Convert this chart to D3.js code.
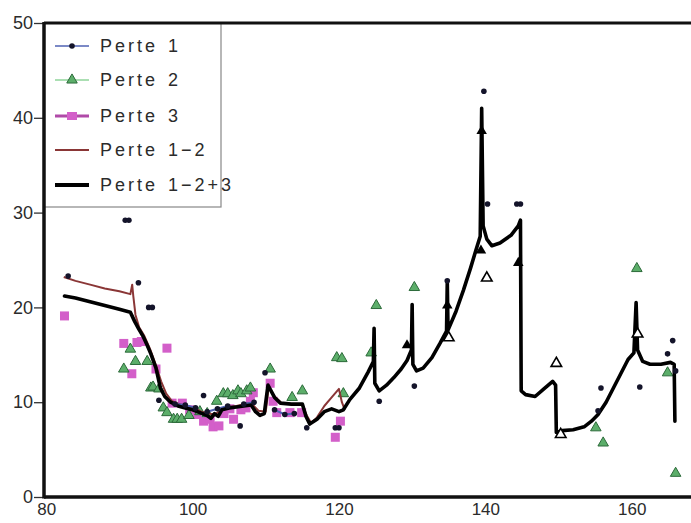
<!DOCTYPE html>
<html><head><meta charset="utf-8">
<script src="https://cdn.jsdelivr.net/npm/d3@7"></script>
<style>html,body{margin:0;padding:0;background:#fff;} svg{display:block;}</style>
</head><body><svg id="c" width="691" height="523"></svg>
<script>
const xTicks=[80,100,120,140,160];
const yTicks=[0,10,20,30,40,50];
const legendLabels=["Perte 1","Perte 2","Perte 3","Perte 1\u22122","Perte 1\u22122+3"];

const perte1X=[83.0,90.8,91.3,92.6,94.0,94.5,95.4,97.6,99.0,100.4,101.5,102.0,103.4,104.8,106.5,107.0,108.4,109.9,111.2,112.6,113.9,115.6,119.5,120.0,125.5,130.3,134.8,139.8,140.3,144.3,144.8,155.4,155.8,161.1,164.9,165.6,166.0];
const perte1Y=[23.3,29.2,29.2,22.6,20.0,20.0,10.2,9.8,9.7,9.4,10.7,9.0,9.3,9.6,7.5,9.8,10.0,13.1,9.2,8.7,8.8,7.3,7.3,7.3,10.1,11.7,22.8,42.8,30.9,30.9,30.9,9.1,11.5,11.6,15.1,16.5,13.3];

const perte2X=[90.6,91.5,92.2,93.8,94.3,94.6,95.4,96.0,96.5,97.4,97.9,98.5,99.5,101.0,102.0,103.3,104.2,104.8,105.5,106.2,106.6,107.4,107.9,110.6,113.6,115.0,119.7,120.4,120.6,124.4,125.1,130.3,155.1,156.1,160.7,164.9,166.0];
const perte2Y=[13.5,15.6,14.3,14.3,11.5,11.6,11.4,9.4,8.9,8.2,8.2,8.2,8.6,9.0,8.8,10.1,10.9,10.9,10.7,11.2,10.9,11.2,11.5,13.5,10.5,11.2,14.7,14.6,10.9,15.2,20.2,22.1,7.3,5.7,24.1,13.1,2.5];
// Perte 2 points that lost their colour in the scan (open / dark)
const perte2OpenX=[135.0,140.2,149.7,150.3,160.8];
const perte2OpenY=[16.8,23.1,14.1,6.6,17.2];
const perte2DarkX=[129.3,134.8,139.4,139.5,144.5];
const perte2DarkY=[16.0,20.2,26.0,38.6,24.7];

const perte3X=[82.5,90.6,91.7,92.4,93.0,95.0,96.5,97.2,98.6,99.6,100.6,101.5,102.4,102.8,103.6,104.3,105.1,105.6,106.6,107.3,107.9,108.3,110.6,111.0,111.5,113.3,114.9,119.5,120.2];
const perte3Y=[19.1,16.2,13.0,16.3,16.4,13.5,15.7,9.9,9.9,9.2,8.7,8.0,8.2,7.4,7.5,8.8,9.3,8.2,9.2,9.4,10.1,11.0,12.0,10.1,8.9,8.9,8.9,6.3,8.0];

const perte12X=[82.4,84,86,88,90,91.5,91.75,91.9,92.2,92.7,93.4,94.2,95.0,95.7,96.4,97.2,98.2,99.2,100.2,101.2,102.2,103.0,104.0,105.0,106.0,107.0,108.0,109.0,110.0,110.4,111.2,112.2,113.5,115.0,115.6,116.2,117.0,118.0,119.0,120.0,120.4,120.8];
const perte12Y=[23.2,22.8,22.4,22.0,21.7,21.4,22.4,21.2,19.2,17.9,17.0,15.6,13.9,12.2,10.9,10.1,9.8,9.6,9.4,9.0,8.8,8.7,9.2,9.5,9.6,9.8,9.9,9.1,9.0,11.6,10.6,9.9,9.8,9.7,8.6,7.8,8.4,9.6,10.5,11.4,10.0,9.2];

const perte123X=[82.5,84,86,88,90,91.5,92.1,92.6,93.2,93.8,94.3,95.0,95.6,96.2,97.0,98.0,99.0,100.0,101.0,102.0,102.5,103.0,103.5,104.0,105.0,106.0,107.0,108.0,108.6,109.2,109.8,110.3,111.2,112.0,113.5,115.0,115.5,116.0,117.0,118.0,119.0,120.0,120.6,121.5,122.8,124.0,124.7,124.8,124.9,125.5,126.5,127.5,128.5,129.3,129.9,130.0,130.1,130.6,131.5,132.7,133.8,134.7,134.8,134.9,136.0,137.0,138.0,138.7,139.3,139.5,139.7,140.2,140.9,142.0,143.5,144.5,144.8,144.9,145.5,146.8,148.0,149.2,149.6,149.7,150.5,152.0,153.5,154.5,155.4,156.5,157.5,158.5,159.5,160.3,160.6,160.8,161.5,162.5,164.0,165.3,165.8,165.9];
const perte123Y=[21.2,21.0,20.6,20.2,19.8,19.5,18.5,17.8,17.0,16.0,15.1,13.6,11.5,10.6,10.0,9.6,9.4,9.2,8.9,8.6,8.3,8.8,8.5,9.2,9.4,9.5,9.6,9.7,9.0,8.6,8.8,11.8,10.5,9.9,9.8,9.8,8.5,7.7,8.2,9.0,9.3,9.0,9.2,10.3,11.5,13.2,14.3,17.8,12.0,11.2,11.8,12.6,13.5,14.4,15.5,20.3,14.0,13.3,13.6,14.7,16.2,17.5,22.8,17.6,19.6,21.8,24.2,26.0,27.5,41.0,28.6,27.2,26.5,26.8,27.6,28.6,29.2,11.2,10.8,10.6,11.4,12.2,11.8,6.8,7.0,7.1,7.4,8.0,8.7,10.0,11.5,13.0,14.5,15.2,20.5,15.5,14.3,14.0,14.0,14.2,14.0,8.0];

const zip=(xs,ys)=>xs.map((x,i)=>({x:x,y:ys[i]}));

const W=691,H=523;
const L=44,R=691,T=23,B=497;
const svg=d3.select("#c");
const x=d3.scaleLinear().domain([79.7,168.1]).range([L,R]);
const y=d3.scaleLinear().domain([0,50]).range([B,T]);

const font="'Liberation Sans', Arial, sans-serif";
const GREEN="#5cae6a", GREEN_D="#2c6a3a", MAG="#d35fc9", BLUE="#4f62b3", BROWN="#8a3636";

svg.append("defs").append("clipPath").attr("id","pc")
  .append("rect").attr("x",L).attr("y",T-2).attr("width",R-L).attr("height",B-T+2);

const plot=svg.append("g").attr("clip-path","url(#pc)");

// Perte 3 squares
plot.append("g").selectAll("rect").data(zip(perte3X,perte3Y)).join("rect")
  .attr("x",d=>x(d.x)-4.5).attr("y",d=>y(d.y)-4.5).attr("width",9).attr("height",9)
  .attr("fill",MAG);

// Perte 2 triangles
const tri=d3.symbol().type(d3.symbolTriangle).size(48);
plot.append("g").selectAll("path").data(zip(perte2X,perte2Y)).join("path")
  .attr("d",tri).attr("transform",d=>`translate(${x(d.x)},${y(d.y)})`)
  .attr("fill",GREEN).attr("stroke",GREEN_D).attr("stroke-width",1);

// Perte 1-2 line (brown)
const line=d3.line().x(d=>x(d.x)).y(d=>y(d.y));
plot.append("path").datum(zip(perte12X,perte12Y)).attr("d",line)
  .attr("fill","none").attr("stroke",BROWN).attr("stroke-width",2).attr("stroke-linejoin","round");

// Perte 1 line segments (only between close points)
const p1=zip(perte1X,perte1Y);
const segs=[];
for(let i=1;i<p1.length;i++){
  if(p1[i].x-p1[i-1].x<=1.6 && Math.abs(p1[i].y-p1[i-1].y)<=1.0) segs.push([p1[i-1],p1[i]]);
}
plot.append("g").selectAll("path").data(segs).join("path").attr("d",line)
  .attr("fill","none").attr("stroke",BLUE).attr("stroke-width",2);

// Perte 1-2+3 line (thick black)
plot.append("path").datum(zip(perte123X,perte123Y)).attr("d",line)
  .attr("fill","none").attr("stroke","#000").attr("stroke-width",3.6)
  .attr("stroke-linejoin","round").attr("stroke-linecap","round");

// Perte 2 colourless points
plot.append("g").selectAll("path").data(zip(perte2OpenX,perte2OpenY)).join("path")
  .attr("d",tri).attr("transform",d=>`translate(${x(d.x)},${y(d.y)})`)
  .attr("fill","#fff").attr("stroke","#000").attr("stroke-width",1.6);
plot.append("g").selectAll("path").data(zip(perte2DarkX,perte2DarkY)).join("path")
  .attr("d",tri).attr("transform",d=>`translate(${x(d.x)},${y(d.y)})`)
  .attr("fill","#000");

// Perte 1 markers
plot.append("g").selectAll("circle").data(p1).join("circle")
  .attr("cx",d=>x(d.x)).attr("cy",d=>y(d.y)).attr("r",2.8).attr("fill","#14142a");

// Y axis ticks
const yAx=svg.append("g").attr("transform",`translate(${L-1},0)`)
  .call(d3.axisLeft(y).tickValues(yTicks).tickSize(9).tickPadding(1).tickFormat(d3.format("d")));
yAx.select(".domain").remove();
yAx.selectAll("line").attr("stroke","#333").attr("stroke-width",1.3);
yAx.selectAll("text").attr("font-family",font).attr("font-size",18).attr("fill","#2b2b2b");

// X axis labels
const xAx=svg.append("g").attr("transform",`translate(0,${B})`)
  .call(d3.axisBottom(x).tickValues(xTicks).tickSize(0).tickPadding(6).tickFormat(d3.format("d")));
xAx.select(".domain").remove();
xAx.selectAll("text").attr("font-family",font).attr("font-size",17).attr("fill","#2b2b2b");

// Legend
const lg=svg.append("g");
lg.append("rect").attr("x",L).attr("y",T).attr("width",221-L).attr("height",207-T)
  .attr("fill","#fff").attr("stroke","#888").attr("stroke-width",1.2);
const ly=[46,80,116,150,185];
const lx1=55,lx2=89,lm=72;
const it=lg.selectAll("g.it").data(legendLabels).join("g").attr("class","it")
  .attr("transform",(d,i)=>`translate(0,${ly[i]})`);
it.append("text").attr("x",100).attr("y",6).text(d=>d)
  .attr("font-family",font).attr("font-size",18).attr("letter-spacing",3).attr("word-spacing",2).attr("fill","#2b2b2b");
const g0=d3.select(it.nodes()[0]);
g0.append("line").attr("x1",lx1).attr("x2",lx2).attr("stroke",BLUE).attr("stroke-width",1.6);
g0.append("circle").attr("cx",lm).attr("r",2.8).attr("fill","#14142a");
const g1=d3.select(it.nodes()[1]);
g1.append("line").attr("x1",lx1).attr("x2",lx2).attr("stroke","#8fd49a").attr("stroke-width",1.4);
g1.append("path").attr("d",tri).attr("transform",`translate(${lm},0)`).attr("fill",GREEN).attr("stroke",GREEN_D);
const g2=d3.select(it.nodes()[2]);
g2.append("line").attr("x1",lx1).attr("x2",lx2).attr("stroke","#b04aa8").attr("stroke-width",3);
g2.append("rect").attr("x",lm-5).attr("y",-4).attr("width",10).attr("height",8).attr("fill",MAG);
const g3=d3.select(it.nodes()[3]);
g3.append("line").attr("x1",lx1).attr("x2",lx2).attr("stroke",BROWN).attr("stroke-width",1.8);
const g4=d3.select(it.nodes()[4]);
g4.append("line").attr("x1",lx1).attr("x2",lx2).attr("stroke","#000").attr("stroke-width",4);

// Axes frame (drawn last, over legend box)
svg.append("line").attr("x1",L).attr("x2",R).attr("y1",T).attr("y2",T).attr("stroke","#111").attr("stroke-width",3);
svg.append("line").attr("x1",L).attr("x2",R).attr("y1",B).attr("y2",B).attr("stroke","#111").attr("stroke-width",3.5);
svg.append("line").attr("x1",L).attr("x2",L).attr("y1",T-1).attr("y2",B+1.5).attr("stroke","#111").attr("stroke-width",3.5);
</script>
</body></html>
